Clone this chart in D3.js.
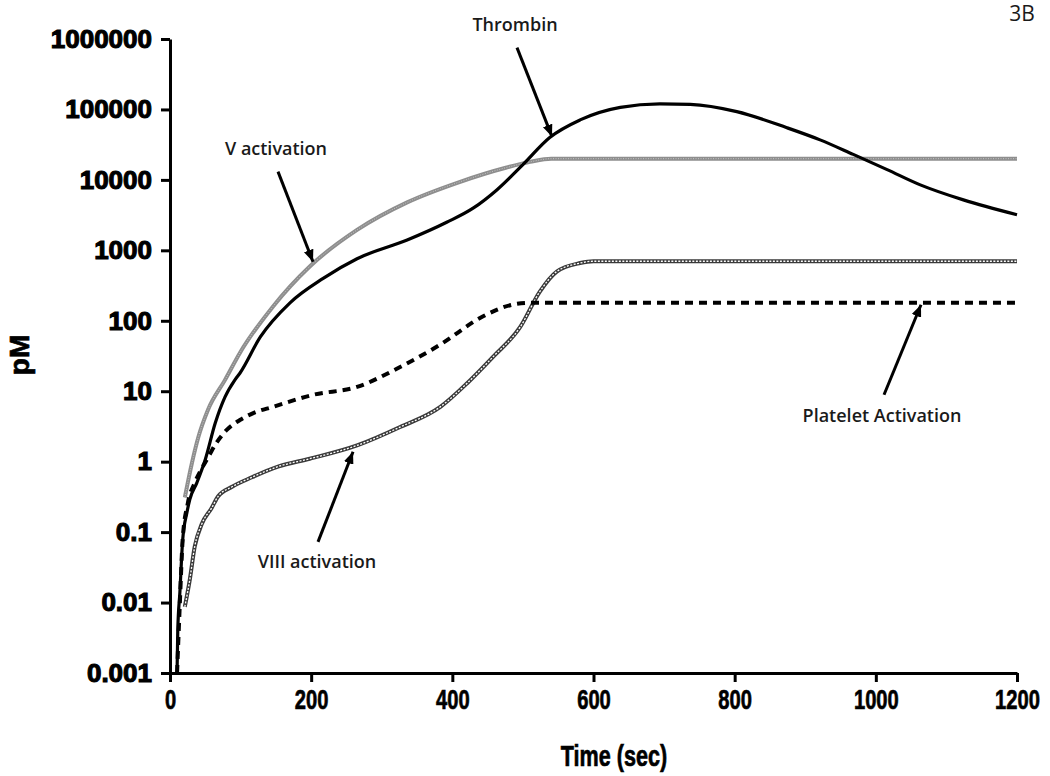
<!DOCTYPE html>
<html>
<head>
<meta charset="utf-8">
<script src="https://cdn.jsdelivr.net/npm/d3@7"></script>
<style>
  html, body { margin: 0; padding: 0; background: #fff; }
  svg { display: block; }
</style>
</head>
<body>
<svg id="chart" width="1050" height="776"></svg>
<script>
// ---- data ----
const thrombinTime = [10, 11, 14, 18, 24, 28, 38, 50, 64, 78, 92, 99, 128, 170, 217, 265, 336, 392, 430, 463, 500, 538, 581, 638, 694, 737, 803, 874, 921, 968, 1016, 1063, 1124, 1200];
const thrombinVal  = [0.001, 0.004, 0.014, 0.078, 0.19, 0.29, 0.5, 1.07, 3.5, 8.3, 14.5, 18, 59, 180, 400, 760, 1400, 2500, 4000, 7200, 16500, 40000, 71000, 107000, 120000, 118000, 93000, 55000, 37000, 23000, 14000, 8500, 5200, 3200];

const vActTime = [21, 31, 40, 54, 78, 99, 146, 198, 265, 336, 407, 477, 510, 540, 1200];
const vActVal  = [0.31, 0.95, 2.2, 5.5, 14.5, 35, 160, 590, 1950, 4800, 9100, 15000, 18000, 20000, 20000];

const plateletTime = [10, 14, 18, 25, 35, 45, 55, 65, 80, 99, 118, 146, 203, 265, 322, 383, 443, 486, 510, 1200];
const plateletVal  = [0.001, 0.01, 0.08, 0.25, 0.5, 0.8, 1.2, 1.8, 2.8, 3.9, 4.9, 6, 8.9, 11.5, 21, 46, 115, 170, 180, 180];

const viiiTime = [21, 28, 35, 45, 59, 68, 88, 116, 153, 198, 265, 326, 383, 421, 458, 496, 524, 548, 581, 600, 1200];
const viiiVal  = [0.0087, 0.021, 0.062, 0.13, 0.22, 0.32, 0.44, 0.6, 0.85, 1.1, 1.7, 3.1, 6, 13, 31, 81, 260, 500, 660, 700, 700];

const xTicks = [0, 200, 400, 600, 800, 1000, 1200];
const yTicks = [0.001, 0.01, 0.1, 1, 10, 100, 1000, 10000, 100000, 1000000];
const yTickLabels = ["0.001", "0.01", "0.1", "1", "10", "100", "1000", "10000", "100000", "1000000"];

// annotation arrows: tail -> head, in data units
const arrowNames = ["Thrombin", "V activation", "Platelet Activation", "VIII activation"];
const arrowTail = [[491.6, 755000], [153, 13100], [1011.6, 8.9], [209.7, 0.0726]];
const arrowHead = [[541.2, 41100], [202.6, 689], [1064, 169], [259.3, 1.38]];

// ---- drawing ----
const svg = d3.select("#chart");
const x = d3.scaleLinear().domain([0, 1200]).range([170, 1017]);
const y = d3.scaleLog().domain([0.001, 1000000]).range([673, 39]);

const zip = (ts, vs) => ts.map((t, i) => [t, vs[i]]);
const line = d3.line().x(d => x(d[0])).y(d => y(d[1])).curve(d3.curveMonotoneX);

// axes
const xAxis = svg.append("g").attr("transform", "translate(0,673)")
  .call(d3.axisBottom(x).tickValues(xTicks).tickFormat(d3.format("d")).tickSize(9).tickSizeOuter(0).tickPadding(7));
const yAxis = svg.append("g").attr("transform", "translate(170,0)")
  .call(d3.axisLeft(y).tickValues(yTicks).tickFormat((d, i) => yTickLabels[i]).tickSize(9).tickSizeOuter(0).tickPadding(9));

[xAxis, yAxis].forEach(a => {
  a.select(".domain").attr("stroke", "#000").attr("stroke-width", 3);
  a.selectAll(".tick line").attr("stroke", "#000").attr("stroke-width", 3);
  a.selectAll("text").attr("fill", "#000")
    .style("font-family", "'Liberation Sans', Arial, sans-serif").style("font-weight", "bold");
});
xAxis.selectAll("text").style("font-size", "28px").attr("stroke", "#000").attr("stroke-width", 0.7)
  .attr("transform", "scale(0.72,1)");
yAxis.selectAll("text").style("font-size", "26px").attr("stroke", "#000").attr("stroke-width", 1.1);

// axis titles
svg.append("text").attr("transform", "translate(614,766) scale(0.72,1)")
  .attr("text-anchor", "middle").attr("fill", "#000").attr("stroke", "#000").attr("stroke-width", 0.7)
  .style("font-family", "'Liberation Sans', Arial, sans-serif").style("font-weight", "bold").style("font-size", "30px")
  .text("Time (sec)");
svg.append("text").attr("transform", "translate(29,355) rotate(-90)")
  .attr("text-anchor", "middle").attr("fill", "#000").attr("stroke", "#000").attr("stroke-width", 0.7)
  .style("font-family", "'Liberation Sans', Arial, sans-serif").style("font-weight", "bold").style("font-size", "28px")
  .text("pM");

// series
const plot = svg.append("g");
// V activation (grey)
plot.append("path").attr("d", line(zip(vActTime, vActVal)))
  .attr("fill", "none").attr("stroke", "#8e8e8e").attr("stroke-width", 4);
plot.append("path").attr("d", line(zip(vActTime, vActVal)))
  .attr("fill", "none").attr("stroke", "#c4c4c4").attr("stroke-width", 1).attr("stroke-dasharray", "1,1.5");
// VIII activation (chain of small circles)
plot.append("path").attr("d", line(zip(viiiTime, viiiVal)))
  .attr("fill", "none").attr("stroke", "#3a3a3a").attr("stroke-width", 4);
plot.append("path").attr("d", line(zip(viiiTime, viiiVal)))
  .attr("fill", "none").attr("stroke", "#fff").attr("stroke-width", 1.3).attr("stroke-dasharray", "2,1.5");
// Platelet activation (dashed)
plot.append("path").attr("d", line(zip(plateletTime, plateletVal)))
  .attr("fill", "none").attr("stroke", "#000").attr("stroke-width", 4).attr("stroke-dasharray", "8,6");
// Thrombin (solid black)
plot.append("path").attr("d", line(zip(thrombinTime, thrombinVal)))
  .attr("fill", "none").attr("stroke", "#000").attr("stroke-width", 3.2);

// arrows
svg.append("defs").append("marker").attr("id", "ah")
  .attr("viewBox", "0 0 12 10").attr("refX", 12).attr("refY", 5)
  .attr("markerWidth", 12).attr("markerHeight", 10).attr("markerUnits", "userSpaceOnUse")
  .attr("orient", "auto")
  .append("path").attr("d", "M0,0 L12,5 L0,10 Z").attr("fill", "#000");
arrowNames.forEach((n, i) => {
  svg.append("line")
    .attr("x1", x(arrowTail[i][0])).attr("y1", y(arrowTail[i][1]))
    .attr("x2", x(arrowHead[i][0])).attr("y2", y(arrowHead[i][1]))
    .attr("stroke", "#000").attr("stroke-width", 3).attr("marker-end", "url(#ah)");
});

// annotation labels
const labelPos = [[515, 31], [276, 155], [882, 422], [317, 568]];
const lab = svg.append("g").style("font-family", "'Open Sans', 'Noto Sans', sans-serif")
  .style("font-weight", 600).style("font-size", "18px").attr("fill", "#1a1a1a");
arrowNames.forEach((n, i) => {
  lab.append("text").attr("x", labelPos[i][0]).attr("y", labelPos[i][1]).attr("text-anchor", "middle").text(n);
});
svg.append("text").attr("x", 1022).attr("y", 21).attr("text-anchor", "middle")
  .style("font-family", "'Open Sans', 'Noto Sans', sans-serif").style("font-size", "21px").attr("fill", "#1a1a1a")
  .text("3B");
</script>
</body>
</html>
